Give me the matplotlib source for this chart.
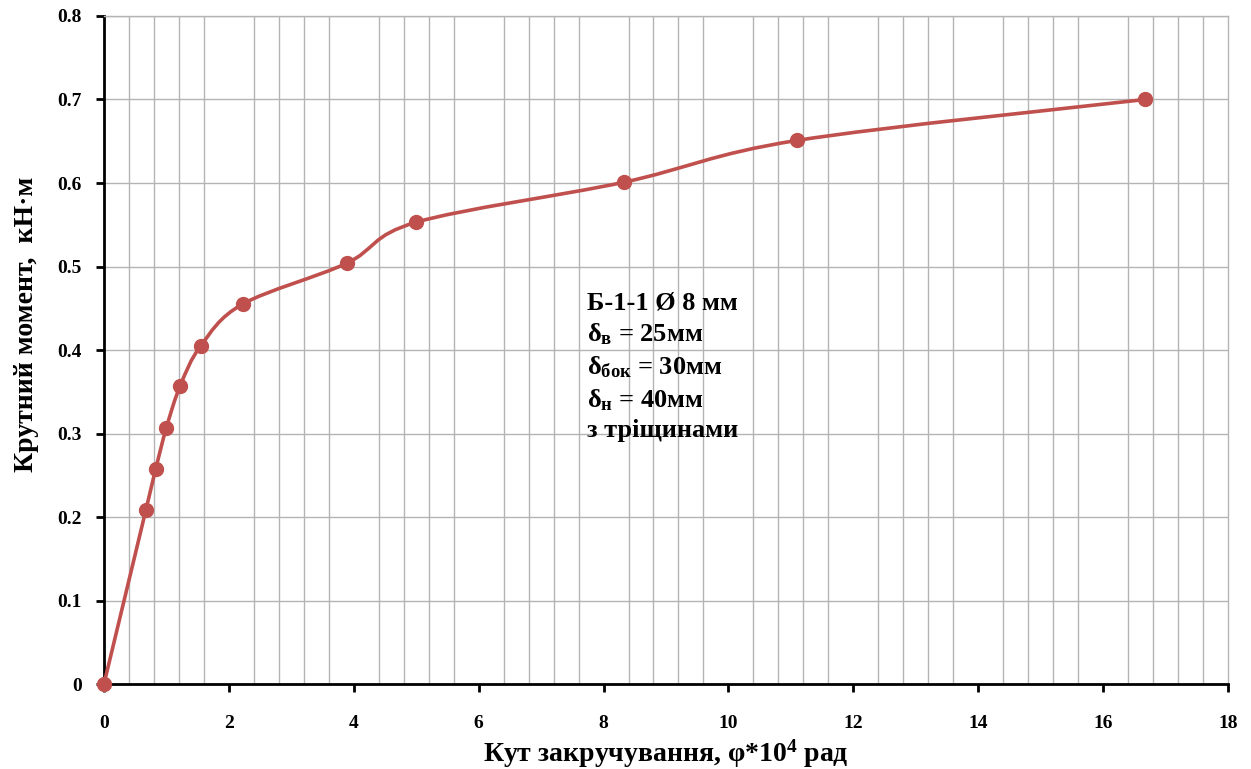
import numpy as np
import matplotlib
matplotlib.use("Agg")
import matplotlib.pyplot as plt
from matplotlib.path import Path
from matplotlib.patches import PathPatch
from matplotlib.ticker import MultipleLocator

# data
angle = [0.0, 0.67, 0.83, 1.0, 1.22, 1.55, 2.22, 3.89, 5.0, 8.33, 11.1, 16.67]
torque = [0.0, 0.208, 0.258, 0.307, 0.357, 0.405, 0.455, 0.504, 0.553, 0.601, 0.651, 0.700]

y_ticks = [0.0, 0.1, 0.2, 0.3, 0.4, 0.5, 0.6, 0.7, 0.8]
y_tick_labels = ["0", "0.1", "0.2", "0.3", "0.4", "0.5", "0.6", "0.7", "0.8"]
x_ticks = [0, 2, 4, 6, 8, 10, 12, 14, 16, 18]

RED = "#c0504d"
GRID = "#b4b4b4"

plt.rcParams.update({
    "font.family": "Liberation Serif",
    "font.weight": "bold",
    "axes.labelweight": "bold",
    "mathtext.fontset": "custom",
    "mathtext.rm": "Liberation Serif:bold",
    "mathtext.it": "Liberation Serif:bold",
    "mathtext.bf": "Liberation Serif:bold",
})


def smooth_path(x, y):
    """Excel-style smoothed line as cubic Bezier segments through the points."""
    pts = np.column_stack([x, y])
    n = len(pts)
    verts = [pts[0]]
    codes = [Path.MOVETO]
    for i in range(n - 1):
        p0 = pts[i - 1] if i > 0 else pts[i]
        p1, p2 = pts[i], pts[i + 1]
        p3 = pts[i + 2] if i + 2 < n else pts[i + 1]
        c1 = p1 + (p2 - p0) / 6.0
        c2 = p2 - (p3 - p1) / 6.0
        verts += [c1, c2, p2]
        codes += [Path.CURVE4] * 3
    return Path(verts, codes)


fig = plt.figure(figsize=(12.51, 7.69), dpi=100)
ax = fig.add_axes([0.0831, 0.1105, 0.8985, 0.8687])

ax.add_patch(PathPatch(smooth_path(angle, torque), fill=False,
                       edgecolor=RED, lw=2.6, zorder=3))
ax.plot(angle, torque, ls="none", marker="o", ms=10, color=RED, zorder=4,
        clip_on=False)

ax.set_xlim(0, 18)
ax.set_ylim(0, 0.8)
ax.set_xticks(x_ticks)
ax.xaxis.set_minor_locator(MultipleLocator(0.4))
ax.set_yticks(y_ticks)
ax.set_yticklabels(y_tick_labels)
ax.grid(which="minor", axis="x", color=GRID, lw=1.0)
ax.grid(which="major", axis="y", color=GRID, lw=1.0)
ax.set_axisbelow(True)

for s in ("top", "right"):
    ax.spines[s].set_color(GRID)
    ax.spines[s].set_linewidth(1.0)
for s in ("left", "bottom"):
    ax.spines[s].set_color("black")
    ax.spines[s].set_linewidth(2.0)

ax.tick_params(axis="both", which="major", direction="out", length=6,
               width=2, labelsize=14)
ax.tick_params(axis="x", which="major", pad=16)
ax.tick_params(axis="y", which="major", pad=10)
ax.tick_params(axis="x", which="minor", length=0)

ax.set_xlabel("Кут закручування, φ*10$^4$ рад", fontsize=20, labelpad=4)
ax.set_ylabel("Крутний момент,  кН·м", fontsize=20)
ax.yaxis.set_label_coords(-0.058, 0.539)

ax.text(7.74, 0.470,
        "Б-1-1 Ø 8 мм\n"
        "δ$_{в}$ = 25мм\n"
        "δ$_{бок}$ = 30мм\n"
        "δ$_{н}$ = 40мм\n"
        "з тріщинами",
        fontsize=19, va="top", ha="left", linespacing=1.36)

fig.savefig("out.png", dpi=100, facecolor="white")
